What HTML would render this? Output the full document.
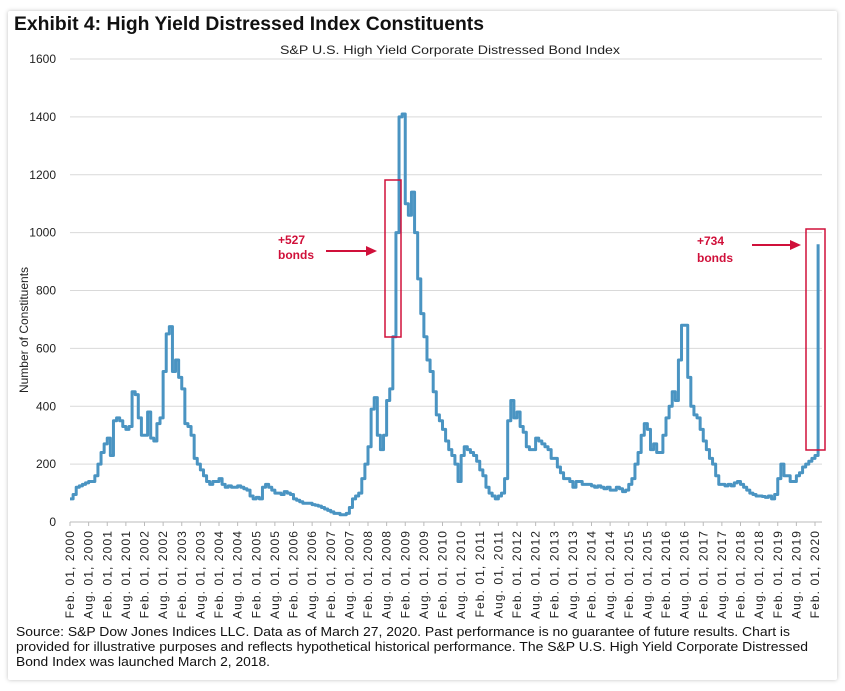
<!DOCTYPE html>
<html><head><meta charset="utf-8"><style>
body{margin:0;background:#fff;width:845px;height:691px;overflow:hidden;font-family:"Liberation Sans",Arial,sans-serif}
.card{position:absolute;left:8px;top:11px;width:829px;height:669px;background:#fff;box-shadow:0 0 4px rgba(0,0,0,0.25);border-radius:2px}
</style></head><body>
<div class="card"></div>
<svg id="chart" width="845" height="691" style="position:absolute;left:0;top:0" font-family="Liberation Sans, Arial, sans-serif">
<text x="14" y="30" font-size="19" font-weight="bold" fill="#111" textLength="470" lengthAdjust="spacingAndGlyphs">Exhibit 4: High Yield Distressed Index Constituents</text>
<text x="450" y="54" font-size="12" text-anchor="middle" fill="#222" textLength="340" lengthAdjust="spacingAndGlyphs">S&amp;P U.S. High Yield Corporate Distressed Bond Index</text>
<text transform="translate(28,330) rotate(-90)" font-size="12" text-anchor="middle" fill="#222">Number of Constituents</text>
<g id="grid"></g><g id="xaxis"></g><g id="series"></g>
<g>
<rect x="385" y="180" width="16" height="157" fill="none" stroke="#d0103a" stroke-width="1.5"/>
<text x="278" y="244" font-size="12" font-weight="bold" fill="#d0103a">+527</text>
<text x="278" y="259" font-size="12" font-weight="bold" fill="#d0103a">bonds</text>
<line x1="326" y1="251" x2="368" y2="251" stroke="#d0103a" stroke-width="2"/>
<polygon points="377,251 366,246 366,256" fill="#d0103a"/>
</g>
<g>
<rect x="806" y="229" width="19" height="221" fill="none" stroke="#d0103a" stroke-width="1.5"/>
<text x="697" y="245" font-size="12" font-weight="bold" fill="#d0103a">+734</text>
<text x="697" y="262" font-size="12" font-weight="bold" fill="#d0103a">bonds</text>
<line x1="752" y1="245" x2="792" y2="245" stroke="#d0103a" stroke-width="2"/>
<polygon points="801,245 790,240 790,250" fill="#d0103a"/>
</g>
<g font-size="13" fill="#111">
<text x="16" y="636" textLength="774" lengthAdjust="spacingAndGlyphs">Source: S&amp;P Dow Jones Indices LLC. Data as of March 27, 2020. Past performance is no guarantee of future results. Chart is</text>
<text x="16" y="651" textLength="792" lengthAdjust="spacingAndGlyphs">provided for illustrative purposes and reflects hypothetical historical performance. The S&amp;P U.S. High Yield Corporate Distressed</text>
<text x="16" y="666" textLength="254" lengthAdjust="spacingAndGlyphs">Bond Index was launched March 2, 2018.</text>
</g>
</svg>
<script>
const yTicks=[0,200,400,600,800,1000,1200,1400,1600];
const xTickLabels=[];
for(let y=2000;y<=2020;y++){xTickLabels.push("Feb. 01, "+y);if(y<2020)xTickLabels.push("Aug. 01, "+y);}
const values=[
80,95,120,125,130,135,140,140,160,200,240,270,
290,230,350,360,350,330,320,330,450,440,360,300,
300,380,290,280,340,360,520,650,675,520,560,500,
460,340,330,300,220,200,180,160,140,130,140,140,
150,130,120,125,120,120,125,120,115,110,90,80,
85,80,120,130,120,110,100,100,95,105,100,95,
80,75,70,65,65,65,60,58,55,50,45,40,
35,30,30,25,25,30,50,80,90,100,150,200,
260,390,430,300,250,300,420,460,640,1000,1400,1410,
1100,1060,1140,1000,840,720,640,560,520,450,370,350,
320,280,250,230,200,140,230,260,250,240,230,210,
180,160,120,100,90,80,90,100,150,350,420,360,
380,330,310,260,250,250,290,280,270,260,250,220,
220,190,170,150,150,140,120,140,140,130,130,130,
125,120,125,120,115,120,110,110,120,115,105,110,
130,150,200,240,300,340,320,250,270,240,240,300,
360,400,450,420,560,680,680,500,400,370,360,320,
280,250,220,200,160,130,130,125,130,125,135,140,
130,120,110,100,95,90,90,88,85,90,80,95,
150,200,160,160,140,140,160,170,190,200,210,220,
230,960];
const NS="http://www.w3.org/2000/svg";
const X0=70,X1=815,Y0=522,Y1=59,XR=822;
const xs=i=>X0+i*(X1-X0)/240;
const ys=v=>Y0-v*(Y0-Y1)/1600;
const grid=document.getElementById('grid');
yTicks.forEach(t=>{
 const l=document.createElementNS(NS,'line');
 
 
 l.setAttribute('x1',X0);l.setAttribute('x2',XR);l.setAttribute('y1',ys(t));l.setAttribute('y2',ys(t));
 l.setAttribute('stroke',t===0?'#bbb':'#d9d9d9');l.setAttribute('stroke-width','1');
 grid.appendChild(l);
 const tx=document.createElementNS(NS,'text');
 
 
 tx.setAttribute('x',56);tx.setAttribute('y',ys(t)+4);tx.setAttribute('text-anchor','end');
 tx.setAttribute('font-size','12');tx.setAttribute('fill','#222');tx.textContent=t;
 grid.appendChild(tx);
});
const xa=document.getElementById('xaxis');
xTickLabels.forEach((lab,k)=>{
 const x=xs(k*6);
 const tk=document.createElementNS(NS,'line');
 
 
 tk.setAttribute('x1',x);tk.setAttribute('x2',x);tk.setAttribute('y1',Y0);tk.setAttribute('y2',Y0+4);
 tk.setAttribute('stroke','#bbb');xa.appendChild(tk);
 const tx=document.createElementNS(NS,'text');
 
 
 tx.setAttribute('transform','translate('+(x+4)+','+(Y0+8)+') rotate(-90)');
 tx.setAttribute('text-anchor','end');tx.setAttribute('font-size','12');tx.setAttribute('fill','#222');
 tx.setAttribute('letter-spacing','1.1');
 tx.textContent=lab;xa.appendChild(tx);
});
let d='';
values.forEach((v,i)=>{
 const x=xs(i),y=ys(v);
 if(i===0)d+='M'+x+','+y;else d+='H'+x+'V'+y;
});
const p=document.createElementNS(NS,'path');


p.setAttribute('d',d);p.setAttribute('fill','none');p.setAttribute('stroke','#4a94c2');
p.setAttribute('stroke-width','3');p.setAttribute('stroke-linejoin','round');
document.getElementById('series').appendChild(p);
</script>
</body></html>
